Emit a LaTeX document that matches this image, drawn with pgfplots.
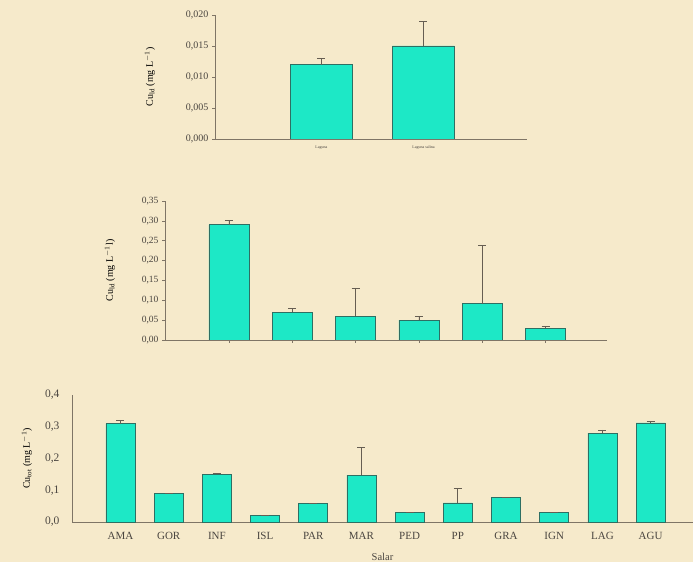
\documentclass[border=0pt]{standalone}
\usepackage{pgfplots}
\pgfplotsset{compat=1.18}
\usepackage{fontspec}
\setmainfont{Liberation Serif}
\definecolor{bg}{HTML}{F6EACB}
\definecolor{barfill}{HTML}{1DE8C6}
\definecolor{bardraw}{HTML}{2E6F63}
\definecolor{axcol}{HTML}{7F7566}
\definecolor{txt}{HTML}{4A4540}
\pgfplotsset{
  common/.style={
    scale only axis,
    axis x line*=bottom, axis y line*=left,
    axis line style={axcol, line width=0.9pt},
    tick style={axcol, line width=0.7pt},
    tick align=outside, major tick length=3pt,
    ybar, ymin=0,
    xtick=data,
    tick label style={text=txt},
    label style={text=txt},
    /pgf/number format/use comma, /pgf/number format/fixed,
    /pgf/number format/fixed zerofill, /pgf/number format/assume math mode=true,
    scaled y ticks=false,
  },
  barst/.style={fill=barfill, draw=bardraw, line width=0.8pt,
    error bars/.cd, y dir=plus, y explicit,
    error bar style={color=axcol!80!black, line width=0.8pt},
    error mark options={rotate=90, mark size=4pt, line width=0.8pt, color=axcol!80!black}},
}
\pgfplotstableread{
x y e
0 0.012 0.001
1 0.015 0.004
}\toptab
\pgfplotstableread{
x y e
0 0.29 0.010
1 0.070 0.010
2 0.060 0.071
3 0.050 0.010
4 0.091 0.148
5 0.030 0.003
}\midtab
\pgfplotstableread{
x y e
0 0.310 0.011
1 0.090 0.0
2 0.150 0.003
3 0.020 0.0
4 0.058 0.0
5 0.148 0.088
6 0.031 0.0
7 0.060 0.047
8 0.077 0.0
9 0.031 0.0
10 0.280 0.010
11 0.312 0.006
}\bottab
\begin{document}
\begin{tikzpicture}
\fill[bg] (0pt,0pt) rectangle (693pt,562pt);
\useasboundingbox (0pt,0pt) rectangle (693pt,562pt);
% top
\begin{axis}[common, at={(215pt,423pt)}, anchor=south west,
  width=312pt, height=124pt,
  xmin=-1.044, xmax=2.015, ymax=0.020,
  ytick={0,0.005,0.010,0.015,0.020},
  yticklabel style={/pgf/number format/precision=3, font=\fontsize{10}{12}\selectfont},
  xticklabels={Laguna, Laguna salina},
  xticklabel style={font=\fontsize{4}{5}\selectfont},
  x tick style={draw=none},
  bar width=62pt,
  ylabel={Cu$_{\mathrm{ld}}$ (mg L$^{-1}$)},
  ylabel style={font=\fontsize{10}{12}\selectfont},
  every axis y label/.style={at={(rel axis cs:0,0.5)}, xshift=-65pt, rotate=90, anchor=center},
]
\addplot[barst] table[x=x, y=y, y error=e] {\toptab};
\end{axis}
% middle
\begin{axis}[common, at={(165pt,222pt)}, anchor=south west,
  width=442pt, height=139pt,
  xmin=-1.01, xmax=5.97, ymax=0.35,
  ytick={0,0.05,0.10,0.15,0.20,0.25,0.30,0.35},
  yticklabel style={/pgf/number format/precision=2, font=\fontsize{9.5}{11}\selectfont},
  xticklabels={},
  bar width=40pt,
  ylabel={Cu$_{\mathrm{ld}}$ (mg L$^{-1}$l)},
  ylabel style={font=\fontsize{9.5}{11}\selectfont},
  every axis y label/.style={at={(rel axis cs:0,0.5)}, xshift=-55pt, rotate=90, anchor=center},
]
\addplot[barst] table[x=x, y=y, y error=e] {\midtab};
\end{axis}
% bottom
\begin{axis}[common, at={(72pt,40pt)}, anchor=south west,
  width=621pt, height=127pt,
  xmin=-1.006, xmax=11.88, ymax=0.4,
  ytick={0,0.1,0.2,0.3,0.4},
  yticklabel style={/pgf/number format/precision=1, font=\fontsize{11.5}{13}\selectfont, xshift=-6pt},
  y tick style={draw=none},
  xticklabels={AMA,GOR,INF,ISL,PAR,MAR,PED,PP,GRA,IGN,LAG,AGU},
  xticklabel style={font=\fontsize{11}{12}\selectfont, yshift=-4pt},
  x tick style={draw=none},
  bar width=29pt,
  xlabel={Salar},
  xlabel style={font=\fontsize{10.5}{12}\selectfont, yshift=-6pt},
  ylabel={Cu$_{\mathrm{tot}}$ (mg L$^{-1}$)},
  ylabel style={font=\fontsize{10.5}{12}\selectfont},
  every axis y label/.style={at={(rel axis cs:0,0.5)}, xshift=-45pt, rotate=90, anchor=center},
]
\addplot[barst] table[x=x, y=y, y error=e] {\bottab};
\end{axis}
\end{tikzpicture}
\end{document}
